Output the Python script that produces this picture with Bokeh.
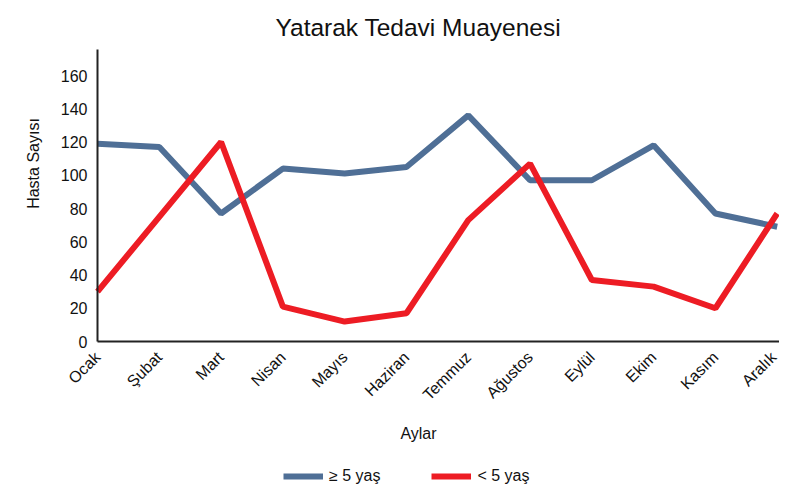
import math
from bokeh.plotting import figure
from bokeh.models import (Range1d, FixedTicker, Legend, LegendItem, Label,
                          LinearAxis)
from bokeh.embed import file_html
from bokeh.resources import INLINE

months = ["Ocak", "Şubat", "Mart", "Nisan", "Mayıs", "Haziran", "Temmuz",
          "Ağustos", "Eylül", "Ekim", "Kasım", "Aralık"]
over5 = [119, 117, 77, 104, 101, 105, 136, 97, 97, 118, 77, 69]
under5 = [30, 75, 120, 21, 12, 17, 73, 107, 37, 33, 20, 77]
y_ticks = [0, 20, 40, 60, 80, 100, 120, 140, 160]

FONT = "Liberation Sans"
BLUE = "#4F6F96"
RED = "#ED1C24"
TXT = "#111111"

x = list(range(len(months)))
Y_TOP = 175.6
X_END = 11.037

# pixel scale of the reference: 61.79 px per month, 1.6625 px per patient
XS, YS = 61.79, 1.6625

p = figure(width=779, height=485, output_backend="svg", toolbar_location=None,
           x_range=Range1d(-97 / XS, X_END),
           y_range=Range1d(-(485 - 341) / YS, 341 / YS),
           x_axis_location=None, y_axis_location=None,
           min_border_left=0, min_border_right=0, min_border_top=0,
           min_border_bottom=0)
p.outline_line_color = None
p.xgrid.visible = False
p.ygrid.visible = False

r1 = p.line(x, over5, line_color=BLUE, line_width=6)
r2 = p.line(x, under5, line_color=RED, line_width=6)

xaxis = LinearAxis(fixed_location=0, bounds=(0, X_END))
yaxis = LinearAxis(fixed_location=0, bounds=(0, Y_TOP))
p.add_layout(xaxis, "below")
p.add_layout(yaxis, "left")

for ax in (xaxis, yaxis):
    ax.axis_line_width = 2
    ax.axis_line_color = "#222222"
    ax.major_tick_line_color = None
    ax.minor_tick_line_color = None
    ax.major_tick_out = 0
    ax.major_tick_in = 0
    ax.major_label_text_font = FONT
    ax.major_label_text_font_size = "16px"
    ax.major_label_text_color = TXT

xaxis.ticker = FixedTicker(ticks=x)
xaxis.major_label_overrides = {i: m for i, m in enumerate(months)}
xaxis.major_label_orientation = math.pi / 4
xaxis.major_label_standoff = 13
yaxis.ticker = FixedTicker(ticks=y_ticks)
yaxis.major_label_standoff = 10

title = Label(x=(275 - 97) / XS, y=(341 - 27.3) / YS,
              text="Yatarak Tedavi Muayenesi", text_align="left",
              text_baseline="alphabetic", text_font=FONT,
              text_font_size="24.5px", text_color=TXT)
ylab = Label(x=(33 - 97) / XS, y=(341 - 163) / YS, text="Hasta Sayısı",
             angle=math.pi / 2, text_align="center", text_baseline="middle",
             text_font=FONT, text_font_size="16px", text_color=TXT)
xlab = Label(x=(418 - 97) / XS, y=(341 - 433) / YS, text="Aylar",
             text_align="center", text_baseline="middle", text_font=FONT,
             text_font_size="16px", text_color=TXT)
for lab in (title, ylab, xlab):
    p.add_layout(lab)

legend = Legend(items=[LegendItem(label="≥ 5 yaş", renderers=[r1]),
                       LegendItem(label="< 5 yaş", renderers=[r2])],
                orientation="horizontal", location=(283, 0),
                padding=0, margin=0, spacing=51, glyph_width=40,
                glyph_height=14, label_height=14, label_standoff=6,
                border_line_alpha=0, background_fill_alpha=0,
                label_text_font=FONT, label_text_font_size="16px",
                label_text_color=TXT)
p.add_layout(legend, "center")

open("out.html", "w").write(file_html(p, INLINE))
